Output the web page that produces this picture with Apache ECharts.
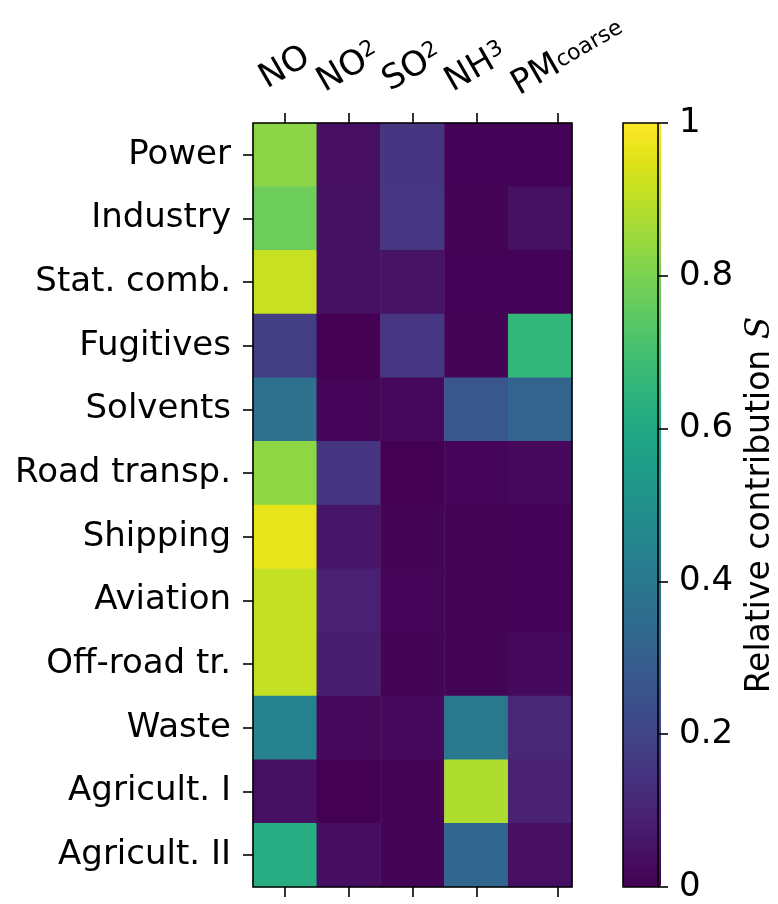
<!DOCTYPE html>
<html>
<head>
<meta charset="utf-8">
<script src="https://cdn.jsdelivr.net/npm/echarts@6/dist/echarts.min.js"></script>
<style>
  html, body { margin: 0; padding: 0; background: #fff; }
  #chart { width: 778px; height: 904px; }
</style>
</head>
<body>
<div id="chart"></div>
<script>
// Emission sectors (rows, top to bottom)
const sectors = ['Power', 'Industry', 'Stat. comb.', 'Fugitives', 'Solvents', 'Road transp.',
  'Shipping', 'Aviation', 'Off-road tr.', 'Waste', 'Agricult. I', 'Agricult. II'];

// Pollutants (columns): base name and subscript part
const pollutantBase = ['NO', 'NO', 'SO', 'NH', 'PM'];
const pollutantSub = ['', '2', '2', '3', 'coarse'];

// Relative contribution S of each sector, one array per pollutant
const noValues   = [0.825, 0.775, 0.915, 0.18, 0.37, 0.83, 0.965, 0.91, 0.91, 0.44, 0.045, 0.62];
const no2Values  = [0.04, 0.045, 0.045, 0.0, 0.015, 0.155, 0.055, 0.09, 0.085, 0.02, 0.0, 0.035];
const so2Values  = [0.155, 0.16, 0.05, 0.16, 0.02, 0.0, 0.01, 0.015, 0.01, 0.025, 0.01, 0.01];
const nh3Values  = [0.005, 0.01, 0.005, 0.01, 0.27, 0.015, 0.01, 0.01, 0.01, 0.40, 0.88, 0.33];
const pmValues   = [0.005, 0.045, 0.005, 0.66, 0.32, 0.02, 0.005, 0.005, 0.025, 0.11, 0.09, 0.04];

// Colorbar tick values
const colorbarTicks = [0, 0.2, 0.4, 0.6, 0.8, 1];

const columns = [noValues, no2Values, so2Values, nh3Values, pmValues];
const heatData = [];
columns.forEach(function (col, xi) {
  col.forEach(function (v, yi) { heatData.push([xi, yi, v]); });
});

// Viridis colormap stops
const viridis = ['#440154', '#471365', '#482475', '#463480', '#414487', '#3b528b', '#355f8d',
  '#2f6c8e', '#2a788e', '#25848e', '#21918c', '#1e9c89', '#22a884', '#2fb47c', '#44bf70',
  '#5ec962', '#7ad151', '#9bd93c', '#bddf26', '#dfe318', '#fde725'];

const FONT = 'DejaVu Sans';
const FS = 34;
const FS_SUB = 22;
const tickStyle = { color: '#000', width: 1.6 };

// Tick positions of the pollutant axis (in column units); labels are split over
// two stacked top axes so that neighbouring rotated labels are never dropped
const pollutantTickPos = [0, 1, 2, 3, 4.28];
const labelPosA = [0, 2, 4.28];
const labelPosB = [1, 3];

function pollutantLabel(value) {
  let idx = 0, best = Infinity;
  pollutantTickPos.forEach(function (p, i) {
    const d = Math.abs(p - value);
    if (d < best) { best = d; idx = i; }
  });
  const base = pollutantBase[idx], sub = pollutantSub[idx];
  if (idx === 4) return '{pm|' + base + '}{pmsub|' + sub + '}';
  return sub ? '{b|' + base + '}{d|' + sub + '}' : '{b|' + base + '}';
}

const labelRich = {
  b: { fontSize: FS, fontFamily: FONT, color: '#000' },
  d: { fontSize: FS_SUB, fontFamily: FONT, color: '#000', verticalAlign: 'top' },
  pm: { fontSize: FS, fontFamily: FONT, color: '#000', padding: [0, 0, 9, 28] },
  pmsub: { fontSize: FS_SUB, fontFamily: FONT, color: '#000', verticalAlign: 'middle', padding: [0, 0, 9, 0] }
};

function topLabelAxis(labelPos, withTicks) {
  return {
    type: 'value', gridIndex: 0, position: 'top', min: -0.5, max: 4.5, z: 12,
    axisLine: { show: false, onZero: false }, splitLine: { show: false },
    axisTick: { show: withTicks, customValues: pollutantTickPos, length: 10, lineStyle: tickStyle },
    axisLabel: {
      show: true, customValues: labelPos, rotate: -30, margin: 55,
      align: 'center', verticalAlign: 'middle',
      showMinLabel: true, showMaxLabel: true, hideOverlap: false,
      formatter: pollutantLabel, rich: labelRich
    }
  };
}

const plotLeft = 253, plotTop = 123, plotW = 319, plotH = 764;
const cbLeft = 623, cbW = 38;

const chart = echarts.init(document.getElementById('chart'), null, { renderer: 'canvas' });

chart.setOption({
  animation: false,
  backgroundColor: '#fff',
  textStyle: { fontFamily: FONT },
  grid: [
    { left: plotLeft, top: plotTop, width: plotW, height: plotH, show: true,
      borderColor: '#000', borderWidth: 1.6, backgroundColor: 'rgba(0,0,0,0)', z: 10 },
    { left: cbLeft, top: plotTop, width: cbW, height: plotH, show: true,
      borderColor: '#000', borderWidth: 1.6, backgroundColor: 'rgba(0,0,0,0)', z: 10 }
  ],
  xAxis: [
    { type: 'category', gridIndex: 0, data: pollutantBase.map(function (b, i) { return b + pollutantSub[i]; }),
      show: false, position: 'bottom', axisLine: { onZero: false } },
    topLabelAxis(labelPosA, true),
    topLabelAxis(labelPosB, false),
    { type: 'value', gridIndex: 0, position: 'bottom', min: -0.5, max: 4.5, z: 12,
      axisLine: { show: false, onZero: false }, splitLine: { show: false },
      axisTick: { show: true, customValues: pollutantTickPos, length: 10, lineStyle: tickStyle },
      axisLabel: { show: false } },
    { type: 'value', gridIndex: 1, show: false, min: 0, max: 1, axisLine: { onZero: false } }
  ],
  yAxis: [
    { type: 'category', gridIndex: 0, data: sectors, inverse: true, position: 'left', z: 12,
      axisLine: { show: false, onZero: false }, splitLine: { show: false },
      axisTick: { show: true, alignWithLabel: true, length: 10, lineStyle: tickStyle },
      axisLabel: { fontSize: FS, fontFamily: FONT, color: '#000', margin: 22 } },
    { type: 'value', gridIndex: 1, position: 'right', min: 0, max: 1, interval: 0.2, z: 12,
      axisLine: { show: false, onZero: false }, splitLine: { show: false },
      axisTick: { show: true, length: 10, lineStyle: tickStyle },
      axisLabel: { fontSize: FS, fontFamily: FONT, color: '#000', margin: 21,
        customValues: colorbarTicks, showMinLabel: true, showMaxLabel: true },
      name: 'Relative contribution {s|S}', nameLocation: 'middle', nameRotate: 90, nameGap: 86,
      nameTextStyle: { fontSize: 33, fontFamily: FONT, color: '#000',
        rich: { s: { fontSize: 33, fontFamily: 'DejaVu Serif', fontStyle: 'italic', color: '#000' } } } }
  ],
  visualMap: {
    type: 'continuous', seriesIndex: 0, min: 0, max: 1, orient: 'vertical',
    left: cbLeft, top: plotTop, itemWidth: cbW, itemHeight: plotH, padding: 0,
    calculable: false, hoverLink: false, showLabel: false,
    inRange: { color: viridis }
  },
  series: [{
    type: 'heatmap', xAxisIndex: 0, yAxisIndex: 0, data: heatData,
    itemStyle: { borderWidth: 0 },
    emphasis: { disabled: true }
  }]
});
</script>
</body>
</html>
